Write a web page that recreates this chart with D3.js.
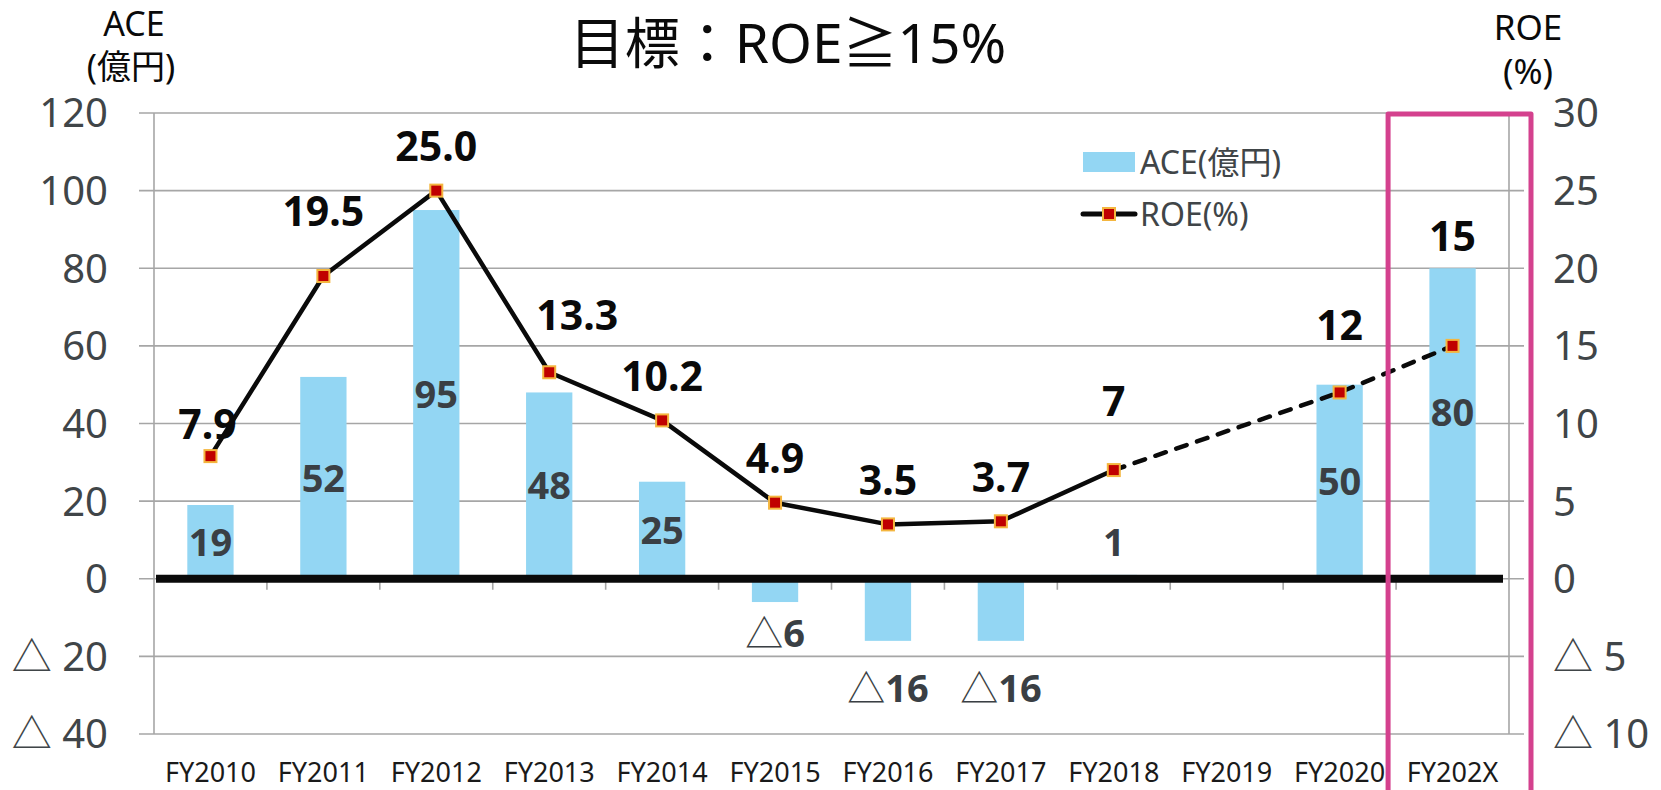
<!DOCTYPE html>
<html>
<head>
<meta charset="utf-8">
<script src="https://cdn.jsdelivr.net/npm/d3@7"></script>
<style>
  body { margin: 0; background: white; }
  svg text { font-family: "Noto Sans", "Noto Sans CJK JP", sans-serif; }
</style>
</head>
<body>
<div id="chart"></div>
<script>
// data
var years = ["FY2010", "FY2011", "FY2012", "FY2013", "FY2014", "FY2015", "FY2016", "FY2017", "FY2018", "FY2019", "FY2020", "FY202X"];
var ace = [19, 52, 95, 48, 25, -6, -16, -16, 1, null, 50, 80];
var roe = [7.9, 19.5, 25.0, 13.3, 10.2, 4.9, 3.5, 3.7, 7, null, 12, 15];
var roeLabels = ["7.9", "19.5", "25.0", "13.3", "10.2", "4.9", "3.5", "3.7", "7", "", "12", "15"];
var leftTicks = [-40, -20, 0, 20, 40, 60, 80, 100, 120];
var rightTicks = [-10, -5, 0, 5, 10, 15, 20, 25, 30];
var dashedFrom = "FY2018";   // line is a forecast from here on
var targetYear = "FY202X";

// label nudges (px), the original had some labels moved by hand
var roeNudge = { FY2010: [-3, 12], FY2011: [0, -21], FY2013: [28, -13], FY2018: [0, -25], FY2020: [0, -23], FY202X: [0, -66] };
var aceNudge = { FY2015: -9, FY2016: 7, FY2017: 7, FY202X: -11 };

var W = 1661, H = 790;
var svg = d3.select("#chart").append("svg")
  .attr("width", W).attr("height", H);

var x = d3.scaleBand().domain(years).range([154, 1509]);
var y1 = d3.scaleLinear().domain([-40, 120]).range([734, 113]);
var y2 = d3.scaleLinear().domain([-10, 30]).range([734, 113]);

var fmtTick = function (d) { return d < 0 ? "△ " + Math.abs(d) : String(d); };

// horizontal grid
svg.append("g").selectAll("line")
  .data(leftTicks)
  .enter().append("line")
  .attr("x1", x.range()[0] - 15)
  .attr("x2", x.range()[1] + 15)
  .attr("y1", d => y1(d))
  .attr("y2", d => y1(d))
  .attr("stroke", "#a6a6a6")
  .attr("stroke-width", 1.6);

// vertical axis lines
[x.range()[0], x.range()[1]].forEach(function (xx) {
  svg.append("line")
    .attr("x1", xx).attr("x2", xx)
    .attr("y1", y1(120)).attr("y2", y1(-40))
    .attr("stroke", "#a6a6a6")
    .attr("stroke-width", 1.6);
});

// left labels
svg.append("g").selectAll("text")
  .data(leftTicks)
  .enter().append("text")
  .attr("x", 108)
  .attr("y", d => y1(d))
  .attr("dy", "0.36em")
  .attr("text-anchor", "end")
  .attr("font-size", 40)
  .attr("fill", "#404548")
  .text(fmtTick);

// right labels
svg.append("g").selectAll("text")
  .data(rightTicks)
  .enter().append("text")
  .attr("x", 1553)
  .attr("y", d => y2(d))
  .attr("dy", "0.36em")
  .attr("text-anchor", "start")
  .attr("font-size", 40)
  .attr("fill", "#404548")
  .text(fmtTick);

// category ticks under zero line
svg.append("g").selectAll("line")
  .data(years.slice(1))
  .enter().append("line")
  .attr("x1", d => x(d)).attr("x2", d => x(d))
  .attr("y1", y1(0)).attr("y2", y1(0) + 11)
  .attr("stroke", "#a6a6a6")
  .attr("stroke-width", 1.6);

// category labels
svg.append("g").selectAll("text")
  .data(years)
  .enter().append("text")
  .attr("x", d => x(d) + x.bandwidth() / 2)
  .attr("y", 782)
  .attr("text-anchor", "middle")
  .attr("font-size", 27)
  .attr("fill", "#1a1a1a")
  .text(d => d);

// bars
var barW = x.bandwidth() * 0.41;
var aceData = years.map(function (d, i) { return { year: d, v: ace[i] }; }).filter(d => d.v !== null);

svg.append("g").selectAll("rect")
  .data(aceData)
  .enter().append("rect")
  .attr("x", d => x(d.year) + (x.bandwidth() - barW) / 2)
  .attr("y", d => y1(Math.max(0, d.v)))
  .attr("width", barW)
  .attr("height", d => Math.abs(y1(d.v) - y1(0)))
  .attr("fill", "#93d6f3");

// zero line
svg.append("line")
  .attr("x1", x.range()[0] + 2).attr("x2", x.range()[1] - 6)
  .attr("y1", y1(0)).attr("y2", y1(0))
  .attr("stroke", "#0a0a0a")
  .attr("stroke-width", 8);

// bar labels
var barLabels = svg.append("g").selectAll("text")
  .data(aceData)
  .enter().append("text")
  .attr("x", d => x(d.year) + x.bandwidth() / 2)
  .attr("y", function (d) {
    var h = Math.abs(y1(d.v) - y1(0));
    var ny = aceNudge[d.year] || 0;
    if (d.v < 0) return y1(d.v) + 40 + ny;
    if (h < 30) return y1(d.v) - 33 + ny;
    return (y1(d.v) + y1(0)) / 2 + ny;
  })
  .attr("dy", "0.36em")
  .attr("text-anchor", "middle")
  .attr("font-size", 38)
  .attr("font-weight", "bold")
  .attr("fill", "#3a3f44");

barLabels.each(function (d) {
  var t = d3.select(this);
  if (d.v < 0) {
    t.append("tspan").attr("font-weight", "normal").attr("font-family", "Noto Sans CJK JP").text("△");
    t.append("tspan").text(Math.abs(d.v));
  } else {
    t.text(d.v);
  }
});

// roe line
var roeData = years.map(function (d, i) { return { year: d, v: roe[i], label: roeLabels[i], i: i }; }).filter(d => d.v !== null);
var cut = years.indexOf(dashedFrom);
var line = d3.line()
  .x(d => x(d.year) + x.bandwidth() / 2)
  .y(d => y2(d.v));

svg.append("path")
  .datum(roeData.filter(d => d.i <= cut))
  .attr("d", line)
  .attr("fill", "none")
  .attr("stroke", "#0a0a0a")
  .attr("stroke-width", 4.5)
  .attr("stroke-linejoin", "round");

svg.append("path")
  .datum(roeData.filter(d => d.i >= cut))
  .attr("d", line)
  .attr("fill", "none")
  .attr("stroke", "#0a0a0a")
  .attr("stroke-width", 4.5)
  .attr("stroke-linecap", "round")
  .attr("stroke-dasharray", "11,11");

svg.append("g").selectAll("rect")
  .data(roeData)
  .enter().append("rect")
  .attr("x", d => x(d.year) + x.bandwidth() / 2 - 6)
  .attr("y", d => y2(d.v) - 6)
  .attr("width", 12)
  .attr("height", 12)
  .attr("fill", "#c00000")
  .attr("stroke", "#f4b63f")
  .attr("stroke-width", 2);

svg.append("g").selectAll("text")
  .data(roeData)
  .enter().append("text")
  .attr("x", d => x(d.year) + x.bandwidth() / 2 + (roeNudge[d.year] ? roeNudge[d.year][0] : 0))
  .attr("y", d => y2(d.v) - 44 + (roeNudge[d.year] ? roeNudge[d.year][1] : 0))
  .attr("dy", "0.36em")
  .attr("text-anchor", "middle")
  .attr("font-size", 41)
  .attr("font-weight", "bold")
  .attr("fill", "#0a0a0a")
  .text(d => d.label);

// target box
var bx = x(targetYear) - 8;
svg.append("path")
  .attr("d", "M" + bx + "," + H + " V114 H1531 V" + H)
  .attr("fill", "none")
  .attr("stroke", "#d4418e")
  .attr("stroke-width", 5)
  .attr("stroke-linejoin", "round");

// legend
svg.append("rect")
  .attr("x", 1083).attr("y", 152)
  .attr("width", 52).attr("height", 20)
  .attr("fill", "#93d6f3");
svg.append("text")
  .attr("x", 1140).attr("y", 162).attr("dy", "0.36em")
  .attr("font-size", 32).attr("fill", "#404548")
  .text("ACE(億円)");

svg.append("line")
  .attr("x1", 1083).attr("x2", 1135)
  .attr("y1", 214).attr("y2", 214)
  .attr("stroke", "#0a0a0a").attr("stroke-width", 5)
  .attr("stroke-linecap", "round");
svg.append("rect")
  .attr("x", 1103).attr("y", 208)
  .attr("width", 12).attr("height", 12)
  .attr("fill", "#c00000")
  .attr("stroke", "#f4b63f")
  .attr("stroke-width", 2);
svg.append("text")
  .attr("x", 1140).attr("y", 214).attr("dy", "0.36em")
  .attr("font-size", 32).attr("fill", "#404548")
  .text("ROE(%)");

// titles
svg.append("text")
  .attr("x", 788).attr("y", 63)
  .attr("text-anchor", "middle")
  .attr("font-size", 55).attr("fill", "#0a0a0a")
  .text("目標：ROE≧15%");

svg.append("text")
  .attr("x", 134).attr("y", 36)
  .attr("text-anchor", "middle")
  .attr("font-size", 34).attr("fill", "#0a0a0a")
  .text("ACE");
svg.append("text")
  .attr("x", 131).attr("y", 79)
  .attr("text-anchor", "middle")
  .attr("font-size", 34).attr("fill", "#0a0a0a")
  .text("(億円)");

svg.append("text")
  .attr("x", 1528).attr("y", 40)
  .attr("text-anchor", "middle")
  .attr("font-size", 35).attr("fill", "#0a0a0a")
  .text("ROE");
svg.append("text")
  .attr("x", 1528).attr("y", 84)
  .attr("text-anchor", "middle")
  .attr("font-size", 35).attr("fill", "#0a0a0a")
  .text("(%)");
</script>
</body>
</html>
